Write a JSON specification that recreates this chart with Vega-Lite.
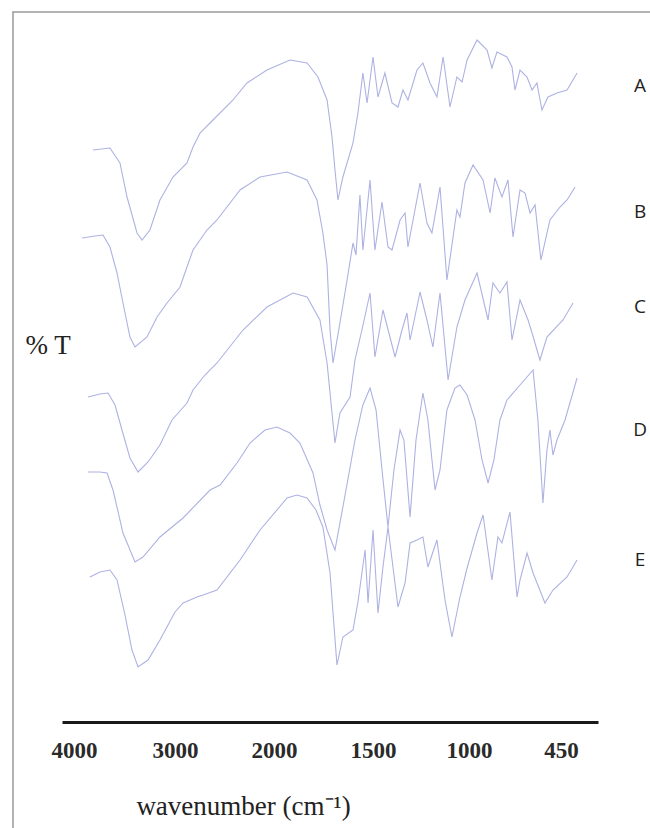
{
  "$schema": "https://vega.github.io/schema/vega-lite/v6.json",
  "width": 640,
  "height": 828,
  "autosize": {"type": "none"},
  "padding": {"left": 13, "top": 12, "right": 0, "bottom": 0},
  "background": "white",
  "config": {"view": {"stroke": "#9a9a9a", "strokeWidth": 1.5}, "axis": {"grid": false}},
  "datasets": {
    "spectra": [
      {"series":"A","wn":3812,"t":690},{"series":"A","wn":3644,"t":692},{"series":"A","wn":3545,"t":677},{"series":"A","wn":3475,"t":643},{"series":"A","wn":3376,"t":607},{"series":"A","wn":3327,"t":600},{"series":"A","wn":3248,"t":610},{"series":"A","wn":3149,"t":640},{"series":"A","wn":3020,"t":663},{"series":"A","wn":2879,"t":677},{"series":"A","wn":2818,"t":693},{"series":"A","wn":2747,"t":707},{"series":"A","wn":2616,"t":720},{"series":"A","wn":2414,"t":740},{"series":"A","wn":2273,"t":757},{"series":"A","wn":2071,"t":770},{"series":"A","wn":1919,"t":780},{"series":"A","wn":1833,"t":777},{"series":"A","wn":1778,"t":763},{"series":"A","wn":1732,"t":740},{"series":"A","wn":1707,"t":703},{"series":"A","wn":1692,"t":670},{"series":"A","wn":1677,"t":640},{"series":"A","wn":1652,"t":663},{"series":"A","wn":1601,"t":697},{"series":"A","wn":1576,"t":727},{"series":"A","wn":1551,"t":767},{"series":"A","wn":1530,"t":737},{"series":"A","wn":1500,"t":783},{"series":"A","wn":1474,"t":743},{"series":"A","wn":1438,"t":767},{"series":"A","wn":1401,"t":737},{"series":"A","wn":1370,"t":733},{"series":"A","wn":1344,"t":750},{"series":"A","wn":1318,"t":740},{"series":"A","wn":1271,"t":770},{"series":"A","wn":1240,"t":777},{"series":"A","wn":1203,"t":757},{"series":"A","wn":1167,"t":743},{"series":"A","wn":1135,"t":783},{"series":"A","wn":1099,"t":733},{"series":"A","wn":1063,"t":763},{"series":"A","wn":1036,"t":758},{"series":"A","wn":1010,"t":780},{"series":"A","wn":952,"t":800},{"series":"A","wn":892,"t":790},{"series":"A","wn":863,"t":772},{"series":"A","wn":833,"t":788},{"series":"A","wn":773,"t":783},{"series":"A","wn":743,"t":773},{"series":"A","wn":725,"t":750},{"series":"A","wn":695,"t":770},{"series":"A","wn":653,"t":763},{"series":"A","wn":623,"t":750},{"series":"A","wn":594,"t":757},{"series":"A","wn":564,"t":730},{"series":"A","wn":528,"t":743},{"series":"A","wn":474,"t":747},{"series":"A","wn":414,"t":750},{"series":"A","wn":354,"t":767},
      {"series":"B","wn":3921,"t":602},{"series":"B","wn":3792,"t":604},{"series":"B","wn":3713,"t":605},{"series":"B","wn":3644,"t":593},{"series":"B","wn":3574,"t":567},{"series":"B","wn":3515,"t":537},{"series":"B","wn":3446,"t":503},{"series":"B","wn":3396,"t":493},{"series":"B","wn":3277,"t":503},{"series":"B","wn":3178,"t":523},{"series":"B","wn":3079,"t":537},{"series":"B","wn":2949,"t":553},{"series":"B","wn":2879,"t":573},{"series":"B","wn":2818,"t":590},{"series":"B","wn":2677,"t":610},{"series":"B","wn":2576,"t":620},{"series":"B","wn":2343,"t":650},{"series":"B","wn":2141,"t":663},{"series":"B","wn":1934,"t":668},{"series":"B","wn":1833,"t":660},{"series":"B","wn":1783,"t":640},{"series":"B","wn":1753,"t":607},{"series":"B","wn":1732,"t":575},{"series":"B","wn":1717,"t":510},{"series":"B","wn":1702,"t":477},{"series":"B","wn":1667,"t":517},{"series":"B","wn":1631,"t":560},{"series":"B","wn":1601,"t":597},{"series":"B","wn":1586,"t":585},{"series":"B","wn":1566,"t":645},{"series":"B","wn":1551,"t":590},{"series":"B","wn":1515,"t":660},{"series":"B","wn":1490,"t":590},{"series":"B","wn":1453,"t":638},{"series":"B","wn":1422,"t":593},{"series":"B","wn":1401,"t":590},{"series":"B","wn":1359,"t":620},{"series":"B","wn":1333,"t":627},{"series":"B","wn":1318,"t":593},{"series":"B","wn":1255,"t":657},{"series":"B","wn":1219,"t":617},{"series":"B","wn":1193,"t":607},{"series":"B","wn":1151,"t":653},{"series":"B","wn":1115,"t":560},{"series":"B","wn":1063,"t":630},{"series":"B","wn":1047,"t":623},{"series":"B","wn":1021,"t":657},{"series":"B","wn":976,"t":675},{"series":"B","wn":916,"t":660},{"series":"B","wn":874,"t":627},{"series":"B","wn":845,"t":662},{"series":"B","wn":803,"t":643},{"series":"B","wn":767,"t":660},{"series":"B","wn":737,"t":603},{"series":"B","wn":695,"t":650},{"series":"B","wn":665,"t":647},{"series":"B","wn":635,"t":627},{"series":"B","wn":605,"t":635},{"series":"B","wn":570,"t":580},{"series":"B","wn":516,"t":620},{"series":"B","wn":456,"t":633},{"series":"B","wn":414,"t":640},{"series":"B","wn":366,"t":653},
      {"series":"C","wn":3861,"t":443},{"series":"C","wn":3743,"t":446},{"series":"C","wn":3663,"t":447},{"series":"C","wn":3594,"t":435},{"series":"C","wn":3525,"t":410},{"series":"C","wn":3446,"t":382},{"series":"C","wn":3366,"t":368},{"series":"C","wn":3267,"t":378},{"series":"C","wn":3149,"t":395},{"series":"C","wn":3030,"t":420},{"series":"C","wn":2879,"t":437},{"series":"C","wn":2818,"t":450},{"series":"C","wn":2697,"t":465},{"series":"C","wn":2576,"t":477},{"series":"C","wn":2313,"t":510},{"series":"C","wn":2071,"t":533},{"series":"C","wn":1904,"t":547},{"series":"C","wn":1833,"t":543},{"series":"C","wn":1768,"t":520},{"series":"C","wn":1732,"t":477},{"series":"C","wn":1707,"t":427},{"series":"C","wn":1692,"t":397},{"series":"C","wn":1667,"t":427},{"series":"C","wn":1616,"t":443},{"series":"C","wn":1591,"t":480},{"series":"C","wn":1556,"t":510},{"series":"C","wn":1515,"t":547},{"series":"C","wn":1490,"t":483},{"series":"C","wn":1448,"t":530},{"series":"C","wn":1385,"t":483},{"series":"C","wn":1349,"t":510},{"series":"C","wn":1323,"t":527},{"series":"C","wn":1307,"t":500},{"series":"C","wn":1255,"t":548},{"series":"C","wn":1219,"t":520},{"series":"C","wn":1188,"t":493},{"series":"C","wn":1151,"t":547},{"series":"C","wn":1109,"t":460},{"series":"C","wn":1063,"t":513},{"series":"C","wn":1021,"t":540},{"series":"C","wn":952,"t":567},{"series":"C","wn":886,"t":520},{"series":"C","wn":857,"t":557},{"series":"C","wn":815,"t":547},{"series":"C","wn":773,"t":558},{"series":"C","wn":743,"t":500},{"series":"C","wn":695,"t":540},{"series":"C","wn":647,"t":520},{"series":"C","wn":623,"t":507},{"series":"C","wn":576,"t":480},{"series":"C","wn":534,"t":503},{"series":"C","wn":438,"t":520},{"series":"C","wn":378,"t":537},
      {"series":"D","wn":3861,"t":368},{"series":"D","wn":3743,"t":368},{"series":"D","wn":3673,"t":367},{"series":"D","wn":3614,"t":350},{"series":"D","wn":3515,"t":307},{"series":"D","wn":3396,"t":278},{"series":"D","wn":3317,"t":283},{"series":"D","wn":3149,"t":303},{"series":"D","wn":2919,"t":322},{"series":"D","wn":2646,"t":350},{"series":"D","wn":2545,"t":355},{"series":"D","wn":2374,"t":377},{"series":"D","wn":2242,"t":397},{"series":"D","wn":2091,"t":410},{"series":"D","wn":1985,"t":413},{"series":"D","wn":1919,"t":407},{"series":"D","wn":1869,"t":397},{"series":"D","wn":1803,"t":367},{"series":"D","wn":1768,"t":335},{"series":"D","wn":1732,"t":310},{"series":"D","wn":1692,"t":290},{"series":"D","wn":1641,"t":345},{"series":"D","wn":1591,"t":400},{"series":"D","wn":1551,"t":435},{"series":"D","wn":1515,"t":452},{"series":"D","wn":1484,"t":430},{"series":"D","wn":1453,"t":370},{"series":"D","wn":1422,"t":313},{"series":"D","wn":1391,"t":370},{"series":"D","wn":1359,"t":410},{"series":"D","wn":1339,"t":400},{"series":"D","wn":1307,"t":323},{"series":"D","wn":1276,"t":400},{"series":"D","wn":1240,"t":447},{"series":"D","wn":1214,"t":420},{"series":"D","wn":1177,"t":350},{"series":"D","wn":1151,"t":370},{"series":"D","wn":1115,"t":430},{"series":"D","wn":1073,"t":452},{"series":"D","wn":1047,"t":455},{"series":"D","wn":1010,"t":445},{"series":"D","wn":964,"t":420},{"series":"D","wn":922,"t":380},{"series":"D","wn":886,"t":357},{"series":"D","wn":851,"t":380},{"series":"D","wn":815,"t":420},{"series":"D","wn":773,"t":440},{"series":"D","wn":695,"t":455},{"series":"D","wn":617,"t":470},{"series":"D","wn":588,"t":420},{"series":"D","wn":558,"t":337},{"series":"D","wn":534,"t":390},{"series":"D","wn":516,"t":410},{"series":"D","wn":498,"t":385},{"series":"D","wn":474,"t":400},{"series":"D","wn":426,"t":420},{"series":"D","wn":354,"t":462},
      {"series":"E","wn":3842,"t":263},{"series":"E","wn":3743,"t":268},{"series":"E","wn":3644,"t":270},{"series":"E","wn":3574,"t":260},{"series":"E","wn":3495,"t":225},{"series":"E","wn":3426,"t":190},{"series":"E","wn":3366,"t":173},{"series":"E","wn":3267,"t":180},{"series":"E","wn":3149,"t":200},{"series":"E","wn":3000,"t":228},{"series":"E","wn":2919,"t":237},{"series":"E","wn":2848,"t":240},{"series":"E","wn":2778,"t":243},{"series":"E","wn":2717,"t":245},{"series":"E","wn":2576,"t":250},{"series":"E","wn":2343,"t":280},{"series":"E","wn":2141,"t":310},{"series":"E","wn":1934,"t":342},{"series":"E","wn":1884,"t":345},{"series":"E","wn":1833,"t":342},{"series":"E","wn":1788,"t":330},{"series":"E","wn":1753,"t":313},{"series":"E","wn":1717,"t":267},{"series":"E","wn":1682,"t":175},{"series":"E","wn":1652,"t":203},{"series":"E","wn":1601,"t":210},{"series":"E","wn":1576,"t":238},{"series":"E","wn":1540,"t":290},{"series":"E","wn":1525,"t":237},{"series":"E","wn":1500,"t":310},{"series":"E","wn":1474,"t":227},{"series":"E","wn":1448,"t":273},{"series":"E","wn":1422,"t":313},{"series":"E","wn":1370,"t":233},{"series":"E","wn":1333,"t":257},{"series":"E","wn":1307,"t":297},{"series":"E","wn":1271,"t":300},{"series":"E","wn":1240,"t":303},{"series":"E","wn":1214,"t":273},{"series":"E","wn":1167,"t":300},{"series":"E","wn":1125,"t":240},{"series":"E","wn":1089,"t":203},{"series":"E","wn":1047,"t":243},{"series":"E","wn":1010,"t":272},{"series":"E","wn":952,"t":307},{"series":"E","wn":916,"t":325},{"series":"E","wn":863,"t":260},{"series":"E","wn":827,"t":303},{"series":"E","wn":803,"t":297},{"series":"E","wn":755,"t":328},{"series":"E","wn":713,"t":243},{"series":"E","wn":695,"t":260},{"series":"E","wn":653,"t":287},{"series":"E","wn":617,"t":267},{"series":"E","wn":546,"t":237},{"series":"E","wn":498,"t":250},{"series":"E","wn":414,"t":263},{"series":"E","wn":354,"t":280}
    ],
    "labels": [
      {"series":"A","wn":354,"t":754},
      {"series":"B","wn":354,"t":628},
      {"series":"C","wn":354,"t":533},
      {"series":"D","wn":354,"t":410},
      {"series":"E","wn":354,"t":280}
    ]
  },
  "layer": [
    {
      "data": {"name": "spectra"},
      "mark": {"type": "line", "color": "#adb2e2", "strokeWidth": 1.1},
      "encoding": {
        "x": {
          "field": "wn", "type": "quantitative",
          "scale": {"domain": [4119, 4000, 3000, 2000, 1500, 1000, 450, 229], "range": [49, 61, 162, 261, 360, 456, 548, 585], "nice": false, "zero": false},
          "axis": {
            "orient": "bottom", "offset": -118,
            "values": [4000, 3000, 2000, 1500, 1000, 450],
            "format": "d",
            "ticks": false, "grid": false,
            "domainColor": "#1a1a1a", "domainWidth": 3,
            "labelFont": "Liberation Serif", "labelFontSize": 23, "labelFontWeight": "bold", "labelColor": "#2a2a2a",
            "labelBaseline": "middle", "labelPadding": 28, "labelFlush": false, "labelOverlap": false,
            "title": "wavenumber (cm⁻¹)",
            "titleFont": "Liberation Serif", "titleFontSize": 27, "titleFontWeight": "normal", "titleColor": "#222222",
            "titleX": 230, "titleY": 92, "titleAlign": "center", "titleBaseline": "alphabetic"
          }
        },
        "y": {
          "field": "t", "type": "quantitative",
          "scale": {"domain": [0, 828], "nice": false, "zero": false},
          "axis": {
            "title": "% T", "titleAngle": 0, "titleX": 12, "titleY": 341, "titleAlign": "left", "titleBaseline": "alphabetic",
            "titleFont": "Liberation Serif", "titleFontSize": 27, "titleFontWeight": "normal", "titleColor": "#222222",
            "labels": false, "ticks": false, "domain": false, "grid": false
          }
        },
        "detail": {"field": "series"}
      }
    },
    {
      "data": {"name": "labels"},
      "mark": {"type": "text", "dx": 63, "align": "center", "baseline": "middle", "font": "Open Sans", "fontSize": 19, "color": "#222222"},
      "encoding": {
        "x": {"field": "wn", "type": "quantitative"},
        "y": {"field": "t", "type": "quantitative"},
        "text": {"field": "series"}
      }
    }
  ]
}
